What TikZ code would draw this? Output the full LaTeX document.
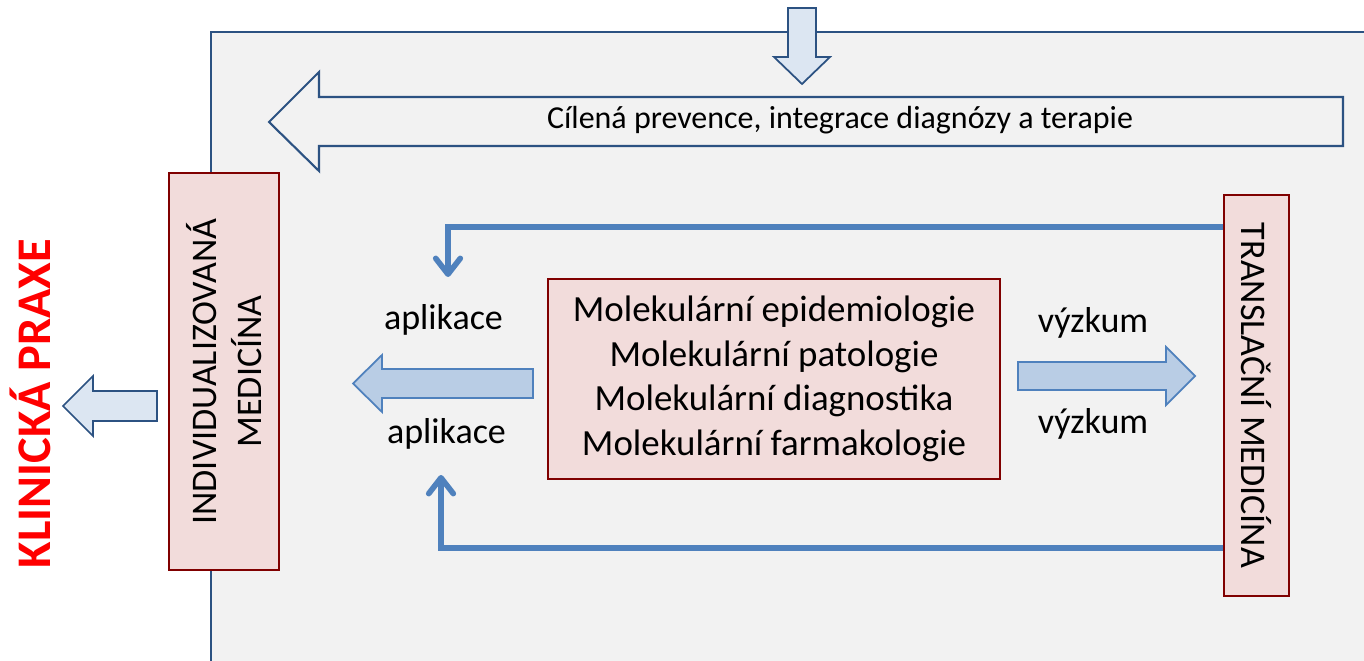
\documentclass[tikz,border=0pt]{standalone}
\usepackage{fontspec}
\setmainfont{Carlito}
\usetikzlibrary{arrows.meta}

\definecolor{panelgray}{HTML}{F2F2F2}
\definecolor{navy}{HTML}{2C5282}
\definecolor{pinkfill}{HTML}{F2DCDB}
\definecolor{darkred}{HTML}{800000}
\definecolor{palefill}{HTML}{DCE6F2}
\definecolor{arrowfill}{HTML}{B9CDE5}
\definecolor{linkblue}{HTML}{4F81BD}

\begin{document}
\begin{tikzpicture}[x=0.02cm, y=-0.02cm,
		pink box/.style={draw=darkred, line width=1.2pt, fill=pinkfill, inner sep=0pt},
		box text/.style={font=\fontsize{20.5}{25.3}\selectfont, align=center},
		pale arrow/.style={draw=navy, line width=1pt, fill=palefill},
		fat arrow/.style={draw=linkblue, line width=1pt, fill=arrowfill},
		link/.style={draw=linkblue, line width=3.2pt,
			-{Straight Barb[round, length=9pt, width=14pt]}}]
			
			\useasboundingbox (0,0) rectangle (1364,661);
			
			\fill[panelgray] (211,32) rectangle (1364,661);
			\draw[navy, line width=1.2pt] (1364,32) -- (211,32) -- (211,661);
			
			\draw[pale arrow] (788,8) -- (816,8) -- (816,57) -- (830,57) -- (802,84) -- (774,57) -- (788,57) -- cycle;
			\draw[navy, line width=1.2pt, fill=panelgray] (1343,97) -- (319,97) -- (319,72) -- (269,122) -- (319,171) -- (319,146) -- (1343,146) -- cycle;
			\node[font=\fontsize{18.2}{22}\selectfont, anchor=base] (goal) at (840,129) {Cílená prevence, integrace diagnózy a terapie};
			
			\node[pink box, minimum width=2.2cm, minimum height=7.94cm] (indiv) at (224,371.5) {};
			\node[box text, rotate=90] at (indiv) {INDIVIDUALIZOVANÁ\\MEDICÍNA};
			
			\node[pink box, minimum width=1.3cm, minimum height=8.02cm] (trans) at (1256.5,395.5) {};
			\node[box text, rotate=-90] at (trans) {TRANSLAČNÍ MEDICÍNA};
			
			\node[pink box, box text, font=\fontsize{21}{25.3}\selectfont, minimum width=9.04cm, minimum height=4cm] (mol) at (774,379)
			{Molekulární epidemiologie\\Molekulární patologie\\Molekulární diagnostika\\Molekulární farmakologie};
			
			\node[text=red, font=\fontsize{27.5}{30}\selectfont\bfseries, rotate=90, anchor=base] (praxe) at (50,403.5) {KLINICKÁ PRAXE};
			\draw[pale arrow] (157,391) -- (93,391) -- (93,376) -- (63,406) -- (93,436) -- (93,421) -- (157,421) -- cycle;
			
			\draw[fat arrow] (533,369) -- (382,369) -- (382,355) -- (353,383.5) -- (382,412) -- (382,398) -- (533,398) -- cycle;
			\draw[fat arrow] (1018,362) -- (1166,362) -- (1166,347) -- (1195,376) -- (1166,405) -- (1166,390) -- (1018,390) -- cycle;
			
			\node[box text, anchor=base] (app1) at (443.5,330) {aplikace};
			\node[box text, anchor=base] (app2) at (446.5,443) {aplikace};
			\node[box text, anchor=base] (res1) at (1093,333) {výzkum};
			\node[box text, anchor=base] (res2) at (1093,434) {výzkum};
			
			\coordinate (apptop) at (448,277);
			\coordinate (appbot) at (441,475);
			\draw[link] (trans.west |- 0,227) -| (apptop);
			\draw[link] (trans.west |- 0,548) -| (appbot);
			
\end{tikzpicture}
\end{document}
